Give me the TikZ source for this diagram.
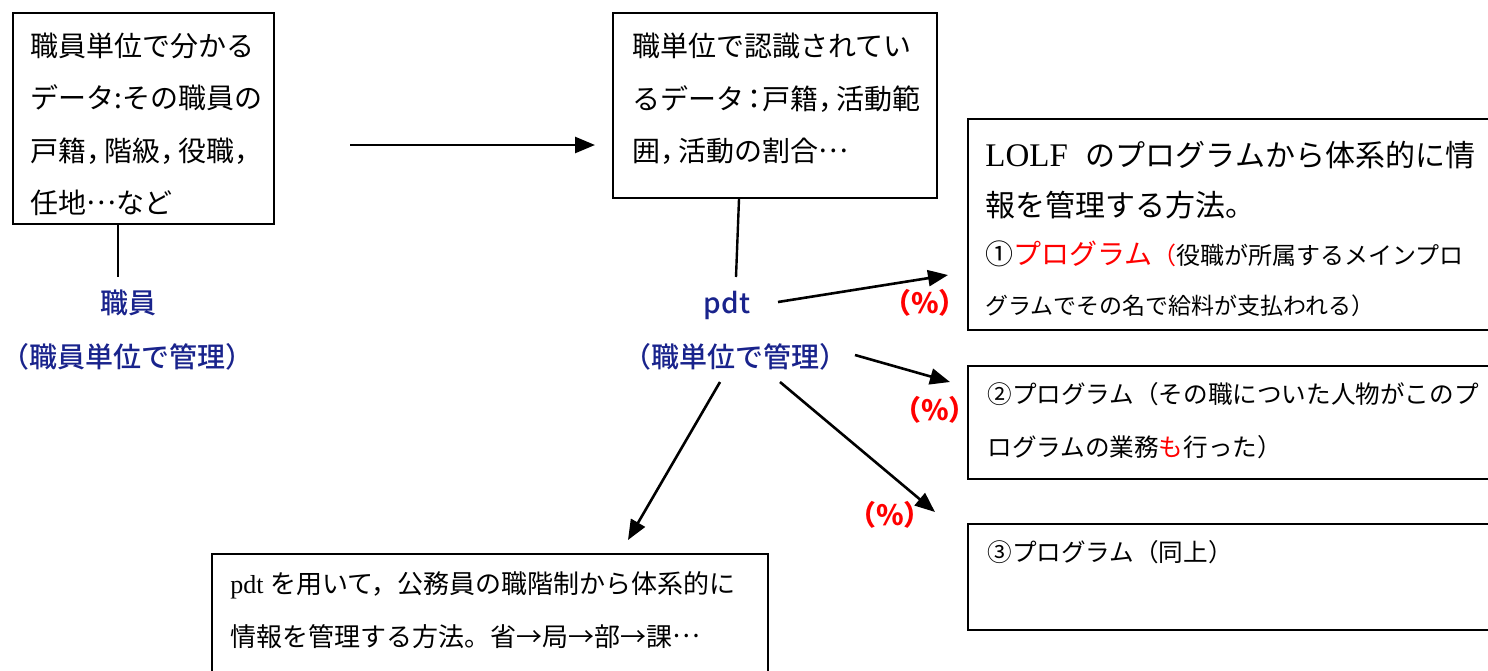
\documentclass[tikz,border=0pt]{standalone}
\usepackage{fontspec}
\setmainfont{Noto Sans CJK JP}
\newfontfamily\lat{Liberation Serif}
\newfontfamily\jmed{Noto Sans CJK JP Medium}
\usetikzlibrary{arrows.meta,calc}
\definecolor{navy}{RGB}{25,35,140}
\definecolor{jred}{RGB}{255,0,0}
\newcommand\jfs[1]{\fontsize{#1}{#1}\selectfont}
\newcommand\jcm{，\kern-5pt}
\newcommand\jdots{\raisebox{0.32em}{…}}
\begin{document}
\begin{tikzpicture}[x=0.5pt,y=-0.5pt,
  box/.style={draw,line width=1pt,inner sep=0pt,anchor=north west},
  tl/.style={inner sep=0pt,anchor=base west},
  blab/.style={inner sep=0pt,text=navy,font=\jmed\jfs{14}},
  pct/.style={inner sep=0pt,text=jred,font=\bfseries\jfs{14}},
  conn/.style={line width=1.2pt},
  arr/.style={line width=1.3pt,-{Triangle[length=10pt,width=8pt]}}]
\useasboundingbox (0,0) rectangle (1488,670);
\clip (0,0) rectangle (1488,670);
% boxes
\node[box,minimum width=130.5pt,minimum height=105.5pt] (b1) at (12,12) {};
\node[box,minimum width=162pt,minimum height=92.5pt] (b2) at (612,12) {};
\node[box,minimum width=266.5pt,minimum height=105.5pt] (b3) at (967,118) {};
\node[box,minimum width=266.5pt,minimum height=56.5pt] (b4) at (967,365) {};
\node[box,minimum width=266.5pt,minimum height=53pt] (b5) at (967,523) {};
\node[box,minimum width=278pt,minimum height=70pt] (b6) at (211,553) {};
% box 1 text
\node[tl,font=\jfs{14}] (t1a) at (30,56) {職員単位で分かる};
\node[tl,font=\jfs{14}] (t1b) at (30,108) {データ:その職員の};
\node[tl,font=\jfs{14}] (t1c) at (30,161) {戸籍\jcm 階級\jcm 役職，};
\node[tl,font=\jfs{14}] (t1d) at (30,213) {任地\jdots など};
% box 2 text
\node[tl,font=\jfs{14}] (t2a) at (632,56) {職単位で認識されてい};
\node[tl,font=\jfs{14}] (t2b) at (632,109) {るデータ\kern-2pt：\kern-3pt戸籍\jcm 活動範};
\node[tl,font=\jfs{14}] (t2c) at (632,161) {囲\jcm 活動の割合\jdots};
% box 3 text
\node[tl,font=\jfs{15}] (t3a) at (985,166) {{\lat\jfs{16.5}LOLF}\hspace{9pt}のプログラムから体系的に情};
\node[tl,font=\jfs{15}] (t3b) at (985,216) {報を管理する方法。};
\node[tl,font=\jfs{14}] (t3c) at (985,264) {①\textcolor{jred}{プログラム\jfs{12}（}\jfs{12}役職が所属するメインプロ};
\node[tl,font=\jfs{11.5}] (t3d) at (985,314) {グラムでその名で給料が支払われる）};
% box 4 text
\node[tl,font=\jfs{12.3}] (t4a) at (987,403) {②プログラム（その職についた人物がこのプ};
\node[tl,font=\jfs{12.3}] (t4b) at (987,456) {ログラムの業務\textcolor{jred}{も}行った）};
% box 5 text
\node[tl,font=\jfs{12.3}] (t5a) at (987,561) {③プログラム（同上）};
% box 6 text
\node[tl,font=\jfs{13}] (t6a) at (230,593) {{\lat pdt }を用いて，公務員の職階制から体系的に};
\node[tl,font=\jfs{13}] (t6b) at (230,646) {情報を管理する方法。省→局→部→課\jdots};
% labels
\node[blab] (emp) at (128,303) {職員};
\node[blab] (empm) at (128,357) {（職員単位で管理）};
\node[blab] (pdt) at (727,305) {pdt};
\node[blab] (pdtm) at (735,357) {（職単位で管理）};
\node[pct] (p1) at (925,303) {（\%）};
\node[pct] (p2) at (935,410) {（\%）};
\node[pct] (p3) at (890,515) {（\%）};
% connectors
\coordinate (l1e) at (118,277);
\draw[conn] (b1.south -| l1e) -- (l1e);
\coordinate (l2e) at (736,277);
\draw[conn] ($(b2.south west)+(127,0)$) -- (l2e);
\coordinate (a1s) at (350,145);
\coordinate (a1e) at (595,145);
\draw[arr] (a1s) -- (a1e);
\coordinate (a2s) at (778,302);
\coordinate (a2e) at (948,275);
\draw[arr] (a2s) -- (a2e);
\coordinate (a3s) at (855,355);
\coordinate (a3e) at (950,382);
\draw[arr] (a3s) -- (a3e);
\coordinate (a4s) at (780,382);
\coordinate (a4e) at (935,512);
\draw[arr] (a4s) -- (a4e);
\coordinate (a5s) at (720,382);
\coordinate (a5e) at (628,540);
\draw[arr] (a5s) -- (a5e);
\end{tikzpicture}
\end{document}
